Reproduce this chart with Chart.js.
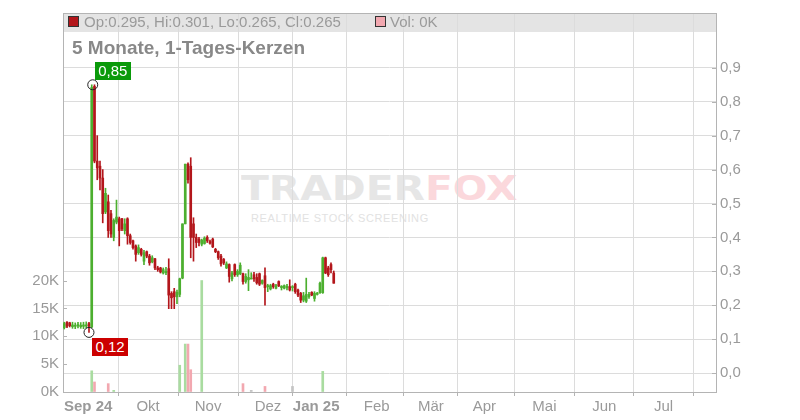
<!DOCTYPE html>
<html>
<head>
<meta charset="utf-8">
<script src="https://cdn.jsdelivr.net/npm/chart.js@4.4.1/dist/chart.umd.min.js"></script>
<style>
  body { margin: 0; background: #fff; }
  #wrap { position: relative; width: 800px; height: 420px; font-family: "Liberation Sans", Arial, sans-serif; overflow: hidden; }
  #chart { position: absolute; left: 0; top: 0; z-index: 1; }
  .abs { position: absolute; white-space: nowrap; z-index: 2; }
  .hdr { font-size: 15px; line-height: 15px; color: #9a9a9a; top: 14px; }
  .sq { position: absolute; top: 16px; width: 9px; height: 9px; border: 1px solid #333; z-index: 2; }
  #title { left: 72px; top: 38px; font-size: 19px; line-height: 19px; font-weight: bold; color: #888; }
  .mark { font-size: 15px; line-height: 18px; height: 18px; width: 36px; text-align: center; color: #fff; }
  #wm { position: absolute; left: 241px; top: 171px; z-index: 0; }
  #wm1 { font-family: "DejaVu Sans", sans-serif; font-size: 34px; line-height: 34px; font-weight: bold; transform: scaleX(1.2); transform-origin: left; white-space: nowrap; }
  #wm2 { position: absolute; left: 10px; top: 42px; font-size: 11px; line-height: 11px; letter-spacing: 0.6px; color: #e2e2e2; white-space: nowrap; }
</style>
</head>
<body>
<div id="wrap">
  <div id="wm">
    <div id="wm1"><span style="color:#e6e6e6">TRADER</span><span style="color:#fbd8dc">FOX</span></div>
    <div id="wm2">REALTIME STOCK SCREENING</div>
  </div>
  <canvas id="chart" width="800" height="420"></canvas>
  <span class="sq" style="left:68px;background:#b3161b"></span>
  <div class="abs hdr" id="ohlc" style="left:84px"></div>
  <span class="sq" style="left:375px;background:#f2a8b0"></span>
  <div class="abs hdr" id="vol" style="left:390px"></div>
  <div class="abs" id="title">5 Monate, 1-Tages-Kerzen</div>
  <div class="abs mark" id="maxLbl" style="background:#0a9a0a"></div>
  <div class="abs mark" id="minLbl" style="background:#cc0000"></div>
</div>
<script>
// Kerzen, ein Eintrag pro Handelstag (ab 20.08.2024)
const candleOpen = [
  0.134, 0.150, 0.148, 0.137, 0.138, 0.139, 0.137, 0.138, 0.139, 0.146,
  0.136, 0.845, 0.625, 0.610, 0.575, 0.475, 0.505, 0.470, 0.400, 0.445,
  0.455, 0.455, 0.420, 0.455, 0.405, 0.390, 0.375, 0.355, 0.365, 0.330,
  0.358, 0.345, 0.328, 0.337, 0.310, 0.310, 0.295, 0.296, 0.308, 0.235,
  0.240, 0.225, 0.232, 0.280, 0.440, 0.616, 0.610, 0.440, 0.400, 0.395,
  0.380, 0.382, 0.400, 0.388, 0.395, 0.365, 0.358, 0.345, 0.335, 0.310,
  0.320, 0.278, 0.320, 0.290, 0.293, 0.293, 0.270, 0.275, 0.280, 0.290,
  0.282, 0.293, 0.265, 0.287, 0.255, 0.248, 0.262, 0.250, 0.270, 0.252,
  0.250, 0.252, 0.255, 0.255, 0.262, 0.245, 0.235, 0.215, 0.212, 0.225,
  0.238, 0.220, 0.232, 0.237, 0.237, 0.340, 0.310, 0.320, 0.295
];
const candleHigh = [
  0.150, 0.152, 0.150, 0.150, 0.148, 0.150, 0.149, 0.150, 0.151, 0.150,
  0.850, 0.850, 0.700, 0.625, 0.600, 0.545, 0.525, 0.480, 0.455, 0.510,
  0.460, 0.456, 0.455, 0.458, 0.410, 0.392, 0.378, 0.378, 0.368, 0.362,
  0.360, 0.350, 0.346, 0.338, 0.315, 0.312, 0.310, 0.312, 0.337, 0.240,
  0.250, 0.245, 0.280, 0.440, 0.616, 0.620, 0.635, 0.458, 0.410, 0.400,
  0.395, 0.402, 0.405, 0.392, 0.398, 0.368, 0.360, 0.350, 0.338, 0.328,
  0.322, 0.300, 0.322, 0.305, 0.325, 0.295, 0.293, 0.305, 0.296, 0.297,
  0.293, 0.295, 0.275, 0.310, 0.262, 0.262, 0.265, 0.262, 0.272, 0.258,
  0.260, 0.262, 0.275, 0.258, 0.265, 0.248, 0.238, 0.238, 0.280, 0.238,
  0.240, 0.240, 0.238, 0.268, 0.342, 0.342, 0.315, 0.325, 0.301
];
const candleLow = [
  0.130, 0.134, 0.136, 0.132, 0.131, 0.133, 0.132, 0.131, 0.133, 0.120,
  0.134, 0.620, 0.570, 0.540, 0.443, 0.470, 0.400, 0.400, 0.390, 0.440,
  0.375, 0.420, 0.410, 0.380, 0.380, 0.365, 0.330, 0.350, 0.345, 0.320,
  0.340, 0.318, 0.325, 0.305, 0.300, 0.295, 0.292, 0.290, 0.190, 0.190,
  0.190, 0.205, 0.225, 0.278, 0.440, 0.560, 0.340, 0.330, 0.370, 0.375,
  0.375, 0.380, 0.385, 0.380, 0.370, 0.355, 0.335, 0.315, 0.320, 0.308,
  0.268, 0.272, 0.285, 0.285, 0.290, 0.262, 0.265, 0.243, 0.278, 0.270,
  0.262, 0.258, 0.262, 0.200, 0.240, 0.245, 0.250, 0.248, 0.255, 0.245,
  0.248, 0.245, 0.242, 0.242, 0.235, 0.225, 0.208, 0.210, 0.208, 0.220,
  0.228, 0.212, 0.230, 0.235, 0.235, 0.293, 0.285, 0.295, 0.265
];
const candleClose = [
  0.146, 0.138, 0.140, 0.142, 0.141, 0.143, 0.141, 0.142, 0.141, 0.138,
  0.842, 0.625, 0.605, 0.575, 0.470, 0.530, 0.420, 0.410, 0.450, 0.460,
  0.420, 0.425, 0.440, 0.405, 0.385, 0.370, 0.350, 0.370, 0.350, 0.355,
  0.345, 0.325, 0.340, 0.310, 0.305, 0.298, 0.305, 0.300, 0.230, 0.222,
  0.225, 0.238, 0.278, 0.440, 0.616, 0.570, 0.400, 0.400, 0.385, 0.385,
  0.392, 0.398, 0.390, 0.383, 0.372, 0.358, 0.340, 0.322, 0.325, 0.322,
  0.285, 0.295, 0.290, 0.300, 0.318, 0.270, 0.285, 0.282, 0.280, 0.278,
  0.266, 0.262, 0.273, 0.252, 0.258, 0.258, 0.255, 0.258, 0.257, 0.256,
  0.258, 0.256, 0.245, 0.255, 0.240, 0.230, 0.215, 0.228, 0.232, 0.232,
  0.230, 0.235, 0.236, 0.265, 0.340, 0.295, 0.290, 0.305, 0.265
];
const volume = [
  0, 0, 0, 0, 0, 0, 0, 0, 0, 0,
  3800, 1800, 0, 0, 0, 0, 1500, 0, 300, 0,
  0, 0, 0, 0, 0, 0, 0, 0, 0, 0,
  0, 0, 0, 0, 0, 0, 0, 0, 0, 0,
  0, 0, 4800, 0, 8600, 8600, 4000, 0, 0, 0,
  20000, 0, 0, 0, 0, 0, 0, 0, 0, 0,
  0, 0, 0, 0, 0, 1500, 0, 0, 300, 0,
  0, 0, 0, 1000, 0, 0, 0, 0, 0, 0,
  0, 0, 0, 1000, 0, 0, 0, 0, 0, 0,
  0, 0, 0, 0, 3700, 0, 0, 0, 0
];

// Monatsanfaenge in Handelstag-Einheiten (inkl. Ausblick bis Jul)
const monthTicks = [8.7, 30.5, 52.3, 74.1, 91.6, 113.6, 133.3, 152.8, 174.6, 196.4, 217.9];
const monthLabels = ['Sep 24', 'Okt', 'Nov', 'Dez', 'Jan 25', 'Feb', 'Mär', 'Apr', 'Mai', 'Jun', 'Jul'];
const priceTicks = [0, 0.1, 0.2, 0.3, 0.4, 0.5, 0.6, 0.7, 0.8, 0.9];
const volTicks = [0, 5000, 10000, 15000, 20000];

const UP = '#4caf2f';
const DOWN = '#b3161b';
const VOL_UP = '#a9dca0';
const VOL_DOWN = '#f2a8b0';
const VOL_FLAT = '#c4c4c4';
const GRID = '#dcdcdc';
const EDGE = '#b4b4b4';

const idx = candleOpen.map((_, i) => i);
function candleColor(i) {
  return candleClose[i] >= candleOpen[i] ? UP : DOWN;
}
function volColor(i) {
  if (candleClose[i] === candleOpen[i]) return VOL_FLAT;
  return candleClose[i] > candleOpen[i] ? VOL_UP : VOL_DOWN;
}

const hiI = candleHigh.indexOf(Math.max(...candleHigh));
const loI = candleLow.indexOf(Math.min(...candleLow));

// Band oben, Rahmen, kleine Achsenstriche und Markierungskreise
const framePlugin = {
  id: 'frame',
  beforeDraw(chart) {
    const a = chart.chartArea, ctx = chart.ctx;
    ctx.save();
    ctx.fillStyle = '#e4e4e4';
    ctx.fillRect(a.left, a.top, a.right - a.left, 19);
    ctx.restore();
  },
  afterDatasetsDraw(chart) {
    const a = chart.chartArea, ctx = chart.ctx;
    const vs = chart.scales.vol, ps = chart.scales.price, xs = chart.scales.x;
    ctx.save();
    ctx.strokeStyle = EDGE;
    ctx.lineWidth = 1;
    ctx.beginPath();
    ctx.moveTo(a.left, a.top + 0.5);
    ctx.lineTo(a.right, a.top + 0.5);
    for (const v of volTicks) {
      const y = Math.round(vs.getPixelForValue(v)) + 0.5;
      ctx.moveTo(a.left, y);
      ctx.lineTo(a.left + 4, y);
    }
    for (const v of priceTicks) {
      const y = Math.round(ps.getPixelForValue(v)) + 0.5;
      ctx.moveTo(a.right - 4, y);
      ctx.lineTo(a.right, y);
    }
    ctx.stroke();

    ctx.strokeStyle = '#222';
    ctx.beginPath();
    ctx.arc(xs.getPixelForValue(hiI) + 1, ps.getPixelForValue(candleHigh[hiI]), 5, 0, Math.PI * 2);
    ctx.stroke();
    ctx.beginPath();
    ctx.arc(xs.getPixelForValue(loI), ps.getPixelForValue(candleLow[loI]), 5, 0, Math.PI * 2);
    ctx.stroke();
    ctx.restore();
  }
};

Chart.defaults.font.family = '"Liberation Sans", Arial, sans-serif';
Chart.defaults.font.size = 15;
Chart.defaults.color = '#9a9a9a';

const chart = new Chart(document.getElementById('chart'), {
  type: 'bar',
  data: {
    datasets: [
      {
        label: 'Körper',
        data: idx.map(i => ({ x: i, y: [candleOpen[i], candleClose[i]] })),
        backgroundColor: idx.map(candleColor),
        barThickness: 2,
        minBarLength: 1,
        grouped: false,
        yAxisID: 'price',
        order: 1
      },
      {
        label: 'Docht',
        data: idx.map(i => ({ x: i, y: [candleLow[i], candleHigh[i]] })),
        backgroundColor: idx.map(candleColor),
        barThickness: 1,
        grouped: false,
        yAxisID: 'price',
        order: 2
      },
      {
        label: 'Vol',
        data: idx.filter(i => volume[i] > 0).map(i => ({ x: i, y: volume[i] })),
        backgroundColor: c => volColor(c.raw.x),
        barThickness: 2,
        grouped: false,
        yAxisID: 'vol',
        order: 3
      }
    ]
  },
  options: {
    responsive: false,
    animation: false,
    layout: { padding: { top: 11, left: 0, right: 0, bottom: 0 } },
    plugins: { legend: { display: false }, tooltip: { enabled: false } },
    scales: {
      x: {
        type: 'linear',
        min: -0.45,
        max: 237,
        offset: false,
        bounds: 'data',
        afterBuildTicks: s => { s.ticks = monthTicks.map(v => ({ value: v })); },
        afterFit: s => { s.height = 28; },
        ticks: {
          autoSkip: false,
          maxRotation: 0,
          padding: 2,
          color: '#9a9a9a',
          font: c => ({ size: 15, weight: (c.index === 0 || c.index === 4) ? 'bold' : 'normal' }),
          callback: (v, i) => monthLabels[i]
        },
        grid: { color: GRID, tickLength: 4, tickColor: EDGE },
        border: { color: EDGE }
      },
      price: {
        type: 'linear',
        position: 'right',
        min: -0.0557,
        max: 1.0616,
        bounds: 'data',
        afterBuildTicks: s => { s.ticks = priceTicks.map(v => ({ value: v })); },
        afterFit: s => { s.width = 84; },
        ticks: { padding: 4, callback: v => v.toFixed(1).replace('.', ',') },
        grid: { color: GRID, drawTicks: false },
        border: { color: EDGE }
      },
      vol: {
        type: 'linear',
        position: 'left',
        min: 0,
        max: 68000,
        bounds: 'data',
        afterBuildTicks: s => { s.ticks = volTicks.map(v => ({ value: v })); },
        afterFit: s => { s.width = 63; },
        ticks: { padding: 4, callback: v => (v / 1000) + 'K' },
        grid: { drawOnChartArea: false, drawTicks: false },
        border: { color: EDGE }
      }
    }
  },
  plugins: [framePlugin]
});

// Kopfzeile und Hoch/Tief-Schilder
const last = candleOpen.length - 1;
document.getElementById('ohlc').textContent =
  'Op:' + candleOpen[last].toFixed(3) + ', Hi:' + candleHigh[last].toFixed(3) +
  ', Lo:' + candleLow[last].toFixed(3) + ', Cl:' + candleClose[last].toFixed(3);
document.getElementById('vol').textContent = 'Vol: ' + Math.round(volume[last] / 1000) + 'K';

const xs = chart.scales.x, ps = chart.scales.price;
const maxLbl = document.getElementById('maxLbl');
maxLbl.textContent = candleHigh[hiI].toFixed(2).replace('.', ',');
maxLbl.style.left = (xs.getPixelForValue(hiI) + 3) + 'px';
maxLbl.style.top = (ps.getPixelForValue(candleHigh[hiI]) - 23) + 'px';
const minLbl = document.getElementById('minLbl');
minLbl.textContent = candleLow[loI].toFixed(2).replace('.', ',');
minLbl.style.left = (xs.getPixelForValue(loI) + 3) + 'px';
minLbl.style.top = (ps.getPixelForValue(candleLow[loI]) + 6) + 'px';
</script>
</body>
</html>
